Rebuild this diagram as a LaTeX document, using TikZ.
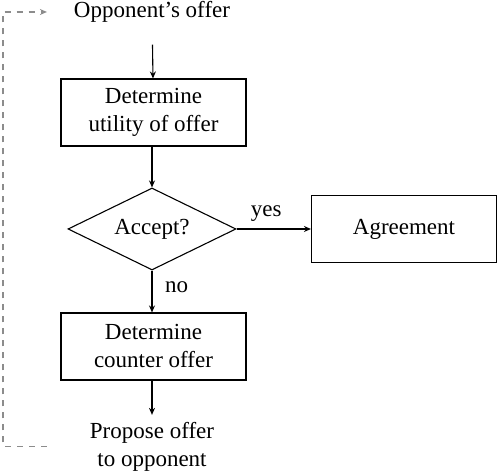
\documentclass[tikz,border=0pt]{standalone}
\usepackage{fontspec}
\setmainfont{Liberation Serif}
\usetikzlibrary{shapes.geometric,arrows.meta}
\begin{document}
\begin{tikzpicture}[x=0.5pt,y=-0.5pt,
  every node/.style={font=\fontsize{11.5}{14}\selectfont},
  procbox/.style={draw, rectangle, minimum width=92.5pt, minimum height=33.5pt, align=center, inner sep=0pt, line width=0.55pt},
  decision/.style={draw, diamond, aspect=2.05, minimum width=84pt, minimum height=41pt, inner sep=0pt, line width=0.55pt},
  plain/.style={align=center},
  flow/.style={-{Stealth[length=3.5pt,width=3pt]}, line width=0.55pt},
  loopback/.style={dashed, black!45, -{Stealth[length=3.5pt,width=3pt]}, line width=0.55pt}]
\useasboundingbox (0,0) rectangle (498,474);
\node[plain] (offer) at (152,12) {Opponent's offer};
\node[procbox] (util) at (153.5,112.5) {Determine\\utility of offer};
\node[decision] (acc) at (152,229) {Accept?};
\node[procbox] (agr) at (404,229) {Agreement};
\node[procbox] (counter) at (153.5,346.5) {Determine\\counter offer};
\node[plain] (prop) at (152,446.5) {Propose offer\\to opponent};
\coordinate (lft) at (3,230);
\draw[flow, shorten <=7.5pt] (offer) -- (util);
\draw[flow] (util.south -| acc) -- (acc);
\draw[flow] (acc) -- node[above, pos=0.4] {yes} (agr);
\draw[flow] (acc) -- node[right, pos=0.4, xshift=3pt] {no} (counter.north -| acc);
\draw[flow] (counter.south -| acc) -- (prop);
\draw[loopback, shorten <=18pt, shorten >=10pt] (prop.west) -| (lft) |- (offer.west);
\end{tikzpicture}
\end{document}
